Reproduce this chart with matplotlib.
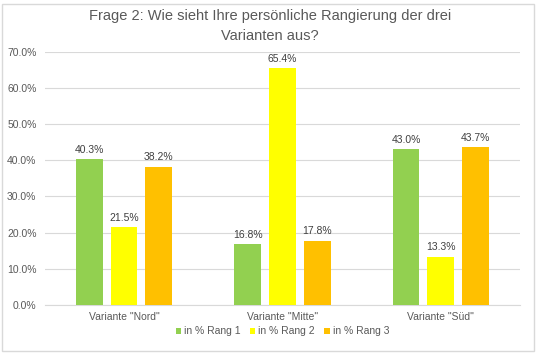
import numpy as np
import matplotlib
matplotlib.use("Agg")
import matplotlib.pyplot as plt
from matplotlib.patches import Rectangle

plt.rcParams["font.family"] = ["Liberation Sans", "DejaVu Sans"]

categories = ['Variante "Nord"', 'Variante "Mitte"', 'Variante "Süd"']
rang1 = [40.3, 16.8, 43.0]
rang2 = [21.5, 65.4, 13.3]
rang3 = [38.2, 17.8, 43.7]
series_names = ["in % Rang 1", "in % Rang 2", "in % Rang 3"]
colors = ["#92D050", "#FFFF00", "#FFC000"]
txt = "#595959"

fig = plt.figure(figsize=(5.4, 3.6), dpi=100)
ax = fig.add_axes([0.083, 0.153, 0.88, 0.703])

x = np.arange(len(categories))
width = 0.17
step = 0.22
for i, (vals, name, c) in enumerate(zip([rang1, rang2, rang3], series_names, colors)):
    bars = ax.bar(x + (i - 1) * step, vals, width, color=c, label=name, zorder=3)
    for b, v in zip(bars, vals):
        ax.text(b.get_x() + b.get_width() / 2, v + 1.2, f"{v:.1f}%",
                ha="center", va="bottom", fontsize=7.5, color="#404040")

ax.set_xlim(-0.5, 2.5)
ax.set_ylim(0, 70)
ax.set_yticks(np.arange(0, 71, 10))
ax.set_yticklabels([f"{t:.1f}%" for t in np.arange(0, 71, 10)])
ax.set_xticks(x)
ax.set_xticklabels(categories)
ax.tick_params(axis="both", length=0, labelsize=7.5, colors=txt)
ax.tick_params(axis="y", pad=6)
ax.tick_params(axis="x", pad=5)
ax.grid(axis="y", color="#D9D9D9", linewidth=0.8, zorder=0)
for s in ["top", "right", "left"]:
    ax.spines[s].set_visible(False)
ax.spines["bottom"].set_color("#D9D9D9")

fig.suptitle("Frage 2: Wie sieht Ihre persönliche Rangierung der drei\nVarianten aus?",
             y=0.975, fontsize=10.5, color=txt, linespacing=1.55)

ax.legend(loc="center", bbox_to_anchor=(0.5, -0.105), ncol=3, frameon=False,
          fontsize=7.5, labelcolor=txt, handlelength=0.5, handleheight=0.5,
          handletextpad=0.3, columnspacing=0.9)

fig.patches.append(Rectangle((0.004, 0.025), 0.985, 0.965, transform=fig.transFigure,
                             fill=False, edgecolor="#D9D9D9", linewidth=1))

fig.savefig("out.png", dpi=100)
